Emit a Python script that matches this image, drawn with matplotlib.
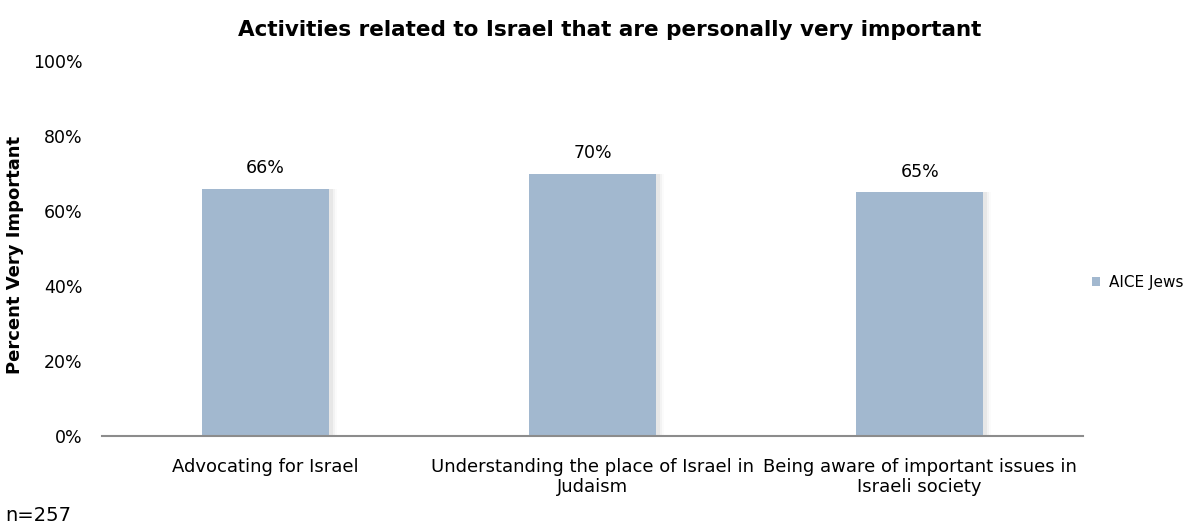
import numpy as np
import matplotlib.pyplot as plt

# survey results: share saying each activity is very important
categories = ["Advocating for Israel",
              "Understanding the place of Israel in\nJudaism",
              "Being aware of important issues in\nIsraeli society"]
values = [66, 70, 65]
series_name = "AICE Jews"
y_ticks = [0, 20, 40, 60, 80, 100]

plt.rcParams['font.family'] = ['DejaVu Sans']

fig = plt.figure(figsize=(12.04, 5.29), dpi=100)
ax = fig.add_axes([0.0847, 0.176, 0.815, 0.708])

x = np.arange(len(categories))
bar_w = 0.39

# soft shadow on the right side of each bar
for dx, a in [(0.010, 0.10), (0.017, 0.06), (0.024, 0.03)]:
    ax.bar(x + dx, values, width=bar_w, color="#808080", alpha=a, zorder=1)
ax.bar(x, values, width=bar_w, color="#A2B8CF", zorder=2, label=series_name)

for xi, v in zip(x, values):
    ax.text(xi, v + 3, f"{v}%", ha="center", va="bottom", fontsize=12.5)

ax.set_xlim(-0.5, len(categories) - 0.5)
ax.set_ylim(0, 100)
ax.set_yticks(y_ticks)
ax.set_yticklabels([f"{t}%" for t in y_ticks], fontsize=12.5)
ax.set_xticks(x)
ax.set_xticklabels(categories, fontsize=13, linespacing=1.1)
ax.tick_params(axis="y", length=0, pad=14)
ax.tick_params(axis="x", length=0, pad=16)

for s in ["top", "right", "left"]:
    ax.spines[s].set_visible(False)
ax.spines["bottom"].set_color("#8C8C8C")
ax.spines["bottom"].set_linewidth(1.5)

fig.text(15 / 1204, 1 - 255 / 529, "Percent Very Important", rotation=90,
         ha="center", va="center", fontsize=13, fontweight="bold")
fig.text(610 / 1204, 1 - 30 / 529,
         "Activities related to Israel that are personally very important",
         ha="center", va="center", fontsize=15.5, fontweight="bold")

ax.legend(loc="center left", bbox_to_anchor=(0.995, 0.41), frameon=False,
          fontsize=11, handlelength=0.5, handleheight=0.5, handletextpad=0.6)

fig.text(5 / 1204, 4 / 529, "n=257", fontsize=14, ha="left", va="bottom")

fig.savefig("out.png", dpi=100)
